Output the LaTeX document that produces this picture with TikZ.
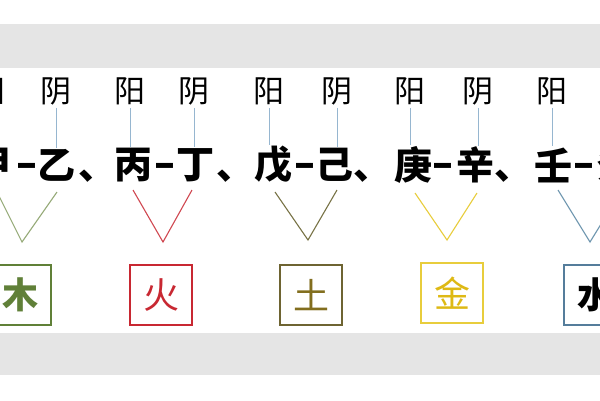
\documentclass[tikz,border=0pt]{standalone}
\usepackage{fontspec}
\usepackage{graphicx}
\newfontfamily\cjk{Noto Sans CJK SC}
\definecolor{band}{RGB}{229,229,229}
\definecolor{stemline}{RGB}{150,182,208}
\definecolor{muC}{RGB}{96,128,56}
\definecolor{muL}{RGB}{150,170,120}
\definecolor{huoC}{RGB}{200,40,50}
\definecolor{tuC}{RGB}{110,100,50}
\definecolor{tuT}{RGB}{130,110,30}
\definecolor{tuL}{RGB}{120,115,70}
\definecolor{jinC}{RGB}{232,205,60}
\definecolor{jinT}{RGB}{222,185,20}
\definecolor{shuiC}{RGB}{85,125,155}
\definecolor{shuiL}{RGB}{110,150,175}
\newcommand{\wdash}{\scalebox{1.5}[1]{-}}
\tikzset{
  yy/.style={font=\cjk\fontsize{31}{31}\selectfont, inner sep=0pt},
  stem/.style={font=\cjk\bfseries\fontsize{38}{38}\selectfont, inner sep=0pt},
  dashc/.style={font=\cjk\bfseries\fontsize{40}{40}\selectfont, inner sep=0pt},
  punct/.style={font=\cjk\bfseries\fontsize{38}{38}\selectfont, inner sep=0pt},
  tick/.style={draw=stemline, line width=1pt, shorten <=3pt, shorten >=1pt},
  vee/.style={line width=1.1pt},
  elem/.style={draw, line width=1.6pt, minimum width=62pt, minimum height=60pt, inner sep=0pt, font=\cjk\fontsize{36}{36}\selectfont}
}
\begin{document}
\begin{tikzpicture}[x=1pt,y=-1pt]
\useasboundingbox (0,0) rectangle (600,400);
\fill[white] (0,0) rectangle (600,400);
\fill[band] (0,24) rectangle (600,68);
\fill[band] (0,333) rectangle (600,375);
% yang / yin labels
\node[yy] (y1) at (-10,91) {阳};
\node[yy] (i1) at (56,91) {阴};
\node[yy] (y2) at (130,91) {阳};
\node[yy] (i2) at (194,91) {阴};
\node[yy] (y3) at (269,91) {阳};
\node[yy] (i3) at (337,91) {阴};
\node[yy] (y4) at (410,91) {阳};
\node[yy] (i4) at (478,91) {阴};
\node[yy] (y5) at (552,91) {阳};
\node[yy] (i5) at (620,91) {阴};
% stems
\node[stem] (s1) at (-8,165) {甲};
\node[dashc] (d1) at (27,170) {\wdash};
\node[stem] (s2) at (56,165) {乙};
\node[punct, anchor=base west] (c1) at (78,179) {、};
\node[stem] (s3) at (133,165) {丙};
\node[dashc] (d2) at (165,170) {\wdash};
\node[stem] (s4) at (195,165) {丁};
\node[punct, anchor=base west] (c2) at (216,179) {、};
\node[stem] (s5) at (273,165) {戊};
\node[dashc] (d3) at (305,170) {\wdash};
\node[stem] (s6) at (334,165) {己};
\node[punct, anchor=base west] (c3) at (353,179) {、};
\node[stem] (s7) at (413,165) {庚};
\node[dashc] (d4) at (443,170) {\wdash};
\node[stem] (s8) at (475,165) {辛};
\node[punct, anchor=base west] (c4) at (494,179) {、};
\node[stem] (s9) at (553,165) {壬};
\node[dashc] (d5) at (584,170) {\wdash};
\node[stem] (s10) at (616,165) {癸};
% ticks
\foreach \a/\b in {y1/s1,i1/s2,y2/s3,i2/s4,y3/s5,i3/s6,y4/s7,i4/s8,y5/s9,i5/s10}
  \draw[tick] (\a.south) -- (\a.south |- \b.north);
% element boxes
\node[elem, draw=muC, text=muC] (e1) at (20,295) {\bfseries 木};
\node[elem, draw=huoC, text=huoC] (e2) at (161,295) {火};
\node[elem, draw=tuC, text=tuT] (e3) at (311,295) {土};
\node[elem, draw=jinC, text=jinT] (e4) at (452,293) {金};
\node[elem, draw=shuiC, text=black] (e5) at (595,295) {\bfseries 水};
% vees
\coordinate (a1) at (-3,192); \coordinate (p1) at (22,242); \coordinate (b1) at (57,192);
\coordinate (a2) at (133,190); \coordinate (p2) at (163,242); \coordinate (b2) at (192,190);
\coordinate (a3) at (275,192); \coordinate (p3) at (308,240); \coordinate (b3) at (337,190);
\coordinate (a4) at (415,193); \coordinate (p4) at (447,240); \coordinate (b4) at (477,193);
\coordinate (a5) at (558,190); \coordinate (p5) at (590,242); \coordinate (b5) at (622,190);
\draw[vee, draw=muL] (a1) -- (p1) -- (b1);
\draw[vee, draw=huoC!85] (a2) -- (p2) -- (b2);
\draw[vee, draw=tuL] (a3) -- (p3) -- (b3);
\draw[vee, draw=jinC] (a4) -- (p4) -- (b4);
\draw[vee, draw=shuiL] (a5) -- (p5) -- (b5);
\end{tikzpicture}
\end{document}
